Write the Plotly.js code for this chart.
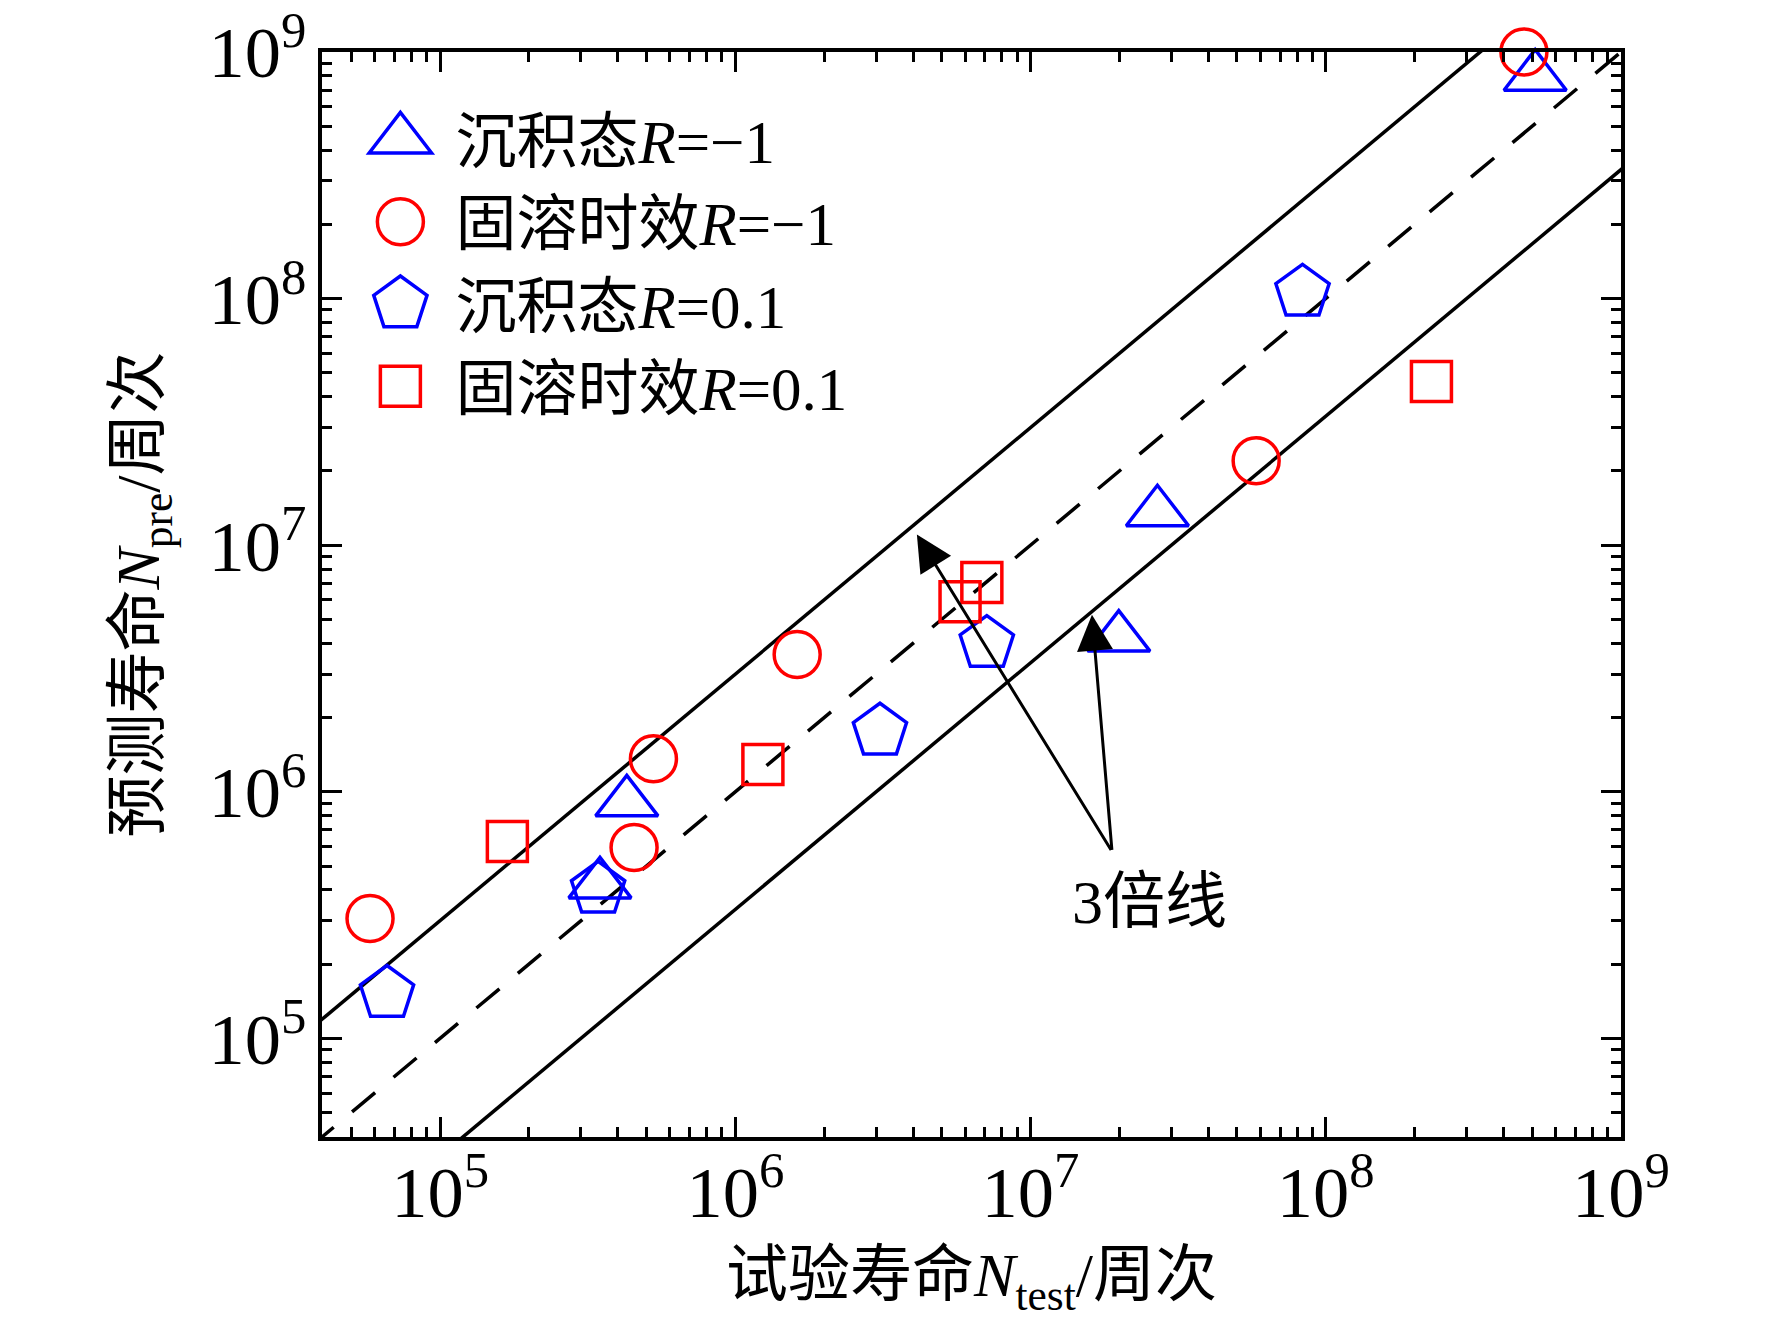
<!DOCTYPE html>
<html>
<head>
<meta charset="utf-8">
<script src="https://cdn.plot.ly/plotly-3.0.1.min.js"></script>
<style>
  html, body { margin: 0; padding: 0; background: #fff; }
</style>
</head>
<body>
<div id="graph" style="width:1772px;height:1333px;"></div>
<script>
// 沉积态 R=-1 (triangles)
let triTest = [4.29e5, 3.48e5, 2.69e7, 1.99e7, 5.12e8];
let triPre  = [9.06e5, 4.21e5, 1.36e7, 4.22e6, 7.94e8];
// 固溶时效 R=-1 (circles)
let cirTest = [5.79e4, 5.28e5, 4.54e5, 1.62e6, 5.81e7, 4.69e8];
let cirPre  = [3.06e5, 1.36e6, 5.94e5, 3.60e6, 2.20e7, 1.00e9];
// 沉积态 R=0.1 (pentagons)
let penTest = [6.61e4, 3.43e5, 3.09e6, 7.11e6, 8.34e7];
let penPre  = [1.52e5, 4.02e5, 1.76e6, 3.99e6, 1.06e8];
// 固溶时效 R=0.1 (squares)
let sqTest = [1.69e5, 1.24e6, 5.77e6, 6.84e6, 2.28e8];
let sqPre  = [6.28e5, 1.29e6, 5.90e6, 7.05e6, 4.61e7];

let seriesNames = ['沉积态<i>R</i>=−1', '固溶时效<i>R</i>=−1', '沉积态<i>R</i>=0.1', '固溶时效<i>R</i>=0.1'];

// 1:1 line and the 3x scatter band
let bandFactor = 3;
let lifeSpan = [1e4, 1e10];

// "3倍线" label and arrows (log10 units)
let labelPos = [7.404, 5.551];
let arrowTail = [7.276, 5.758];
let arrowHeads = [[6.615, 7.043], [7.208, 6.718]];

const font = 'Liberation Serif, "Noto Sans CJK SC", serif';
const blue = '#0000ff';
const red = '#ff0000';

function lineTrace(k, dash) {
    return {
        x: lifeSpan,
        y: lifeSpan.map(v => v * k),
        mode: 'lines',
        line: {color: '#000', width: 3.5, dash: dash},
        showlegend: false,
        hoverinfo: 'skip'
    };
}

function markTrace(x, y, name, symbol, color, size) {
    return {
        x: x, y: y, name: name,
        mode: 'markers',
        type: 'scatter',
        cliponaxis: false,
        marker: {symbol: symbol, size: size, color: color,
                 line: {color: color, width: 3.5}}
    };
}

const data = [
    lineTrace(1, '30px,24px'),
    lineTrace(bandFactor, 'solid'),
    lineTrace(1 / bandFactor, 'solid'),
    markTrace(triTest, triPre, seriesNames[0], 'triangle-up-open', blue, 54),
    markTrace(cirTest, cirPre, seriesNames[1], 'circle-open', red, 46),
    markTrace(penTest, penPre, seriesNames[2], 'pentagon-open', blue, 56),
    markTrace(sqTest, sqPre, seriesNames[3], 'square-open', red, 40)
];

function axis(title, standoff, labelGap) {
    return {
        type: 'log',
        range: [4.6, 9],
        dtick: 1,
        exponentformat: 'power',
        showgrid: false,
        zeroline: false,
        showline: true,
        linewidth: 4,
        linecolor: '#000',
        mirror: 'allticks',
        ticks: 'inside',
        ticklen: 20,
        tickwidth: 3,
        tickcolor: '#000',
        ticklabelstandoff: labelGap,
        tickfont: {family: font, size: 58, color: '#000'},
        minor: {ticks: 'inside', ticklen: 10, tickwidth: 3, tickcolor: '#000', dtick: 'D1', showgrid: false},
        title: {text: title, standoff: standoff, font: {family: font, size: 62, color: '#000'}},
        automargin: false
    };
}

const annotations = arrowHeads.map(h => ({
    x: h[0], y: h[1], ax: arrowTail[0], ay: arrowTail[1],
    xref: 'x', yref: 'y', axref: 'x', ayref: 'y',
    text: '', showarrow: true, arrowhead: 2, arrowsize: 2.4, arrowwidth: 3,
    arrowcolor: '#000', standoff: 0
}));
annotations.push({
    x: labelPos[0], y: labelPos[1], xref: 'x', yref: 'y',
    text: '3倍线', showarrow: false,
    font: {family: font, size: 62, color: '#000'}
});

const layout = {
    width: 1772,
    height: 1333,
    margin: {l: 322, r: 151, t: 52, b: 196},
    paper_bgcolor: '#fff',
    plot_bgcolor: '#fff',
    font: {family: font, color: '#000'},
    xaxis: axis('试验寿命<i>N</i><sub>test</sub>/周次', 22, -8),
    yaxis: axis('预测寿命<i>N</i><sub>pre</sub>/周次', 30, 0),
    showlegend: true,
    legend: {
        x: 0.018, y: 0.962, xanchor: 'left', yanchor: 'top',
        bgcolor: 'rgba(0,0,0,0)', borderwidth: 0,
        itemwidth: 100,
        font: {family: font, size: 61, color: '#000'}
    },
    annotations: annotations
};

const gd = document.getElementById('graph');
Plotly.newPlot(gd, data, layout, {staticPlot: true}).then(function () {
    // legend symbols are capped at 16px by plotly, scale them to the trace size
    gd.querySelectorAll('.legend .traces').forEach(function (g) {
        const tr = g.__data__[0].trace;
        const s = tr.marker.size / 16;
        const txt = g.querySelector('.legendtext');
        const tx = parseFloat(txt.getAttribute('x'));
        g.querySelectorAll('path.scatterpts').forEach(function (p) {
            p.setAttribute('transform', 'translate(' + (tx - 55) + ',0) scale(' + s + ')');
            p.setAttribute('vector-effect', 'non-scaling-stroke');
            p.style.strokeWidth = '3.5px';
        });
    });
});
</script>
</body>
</html>
